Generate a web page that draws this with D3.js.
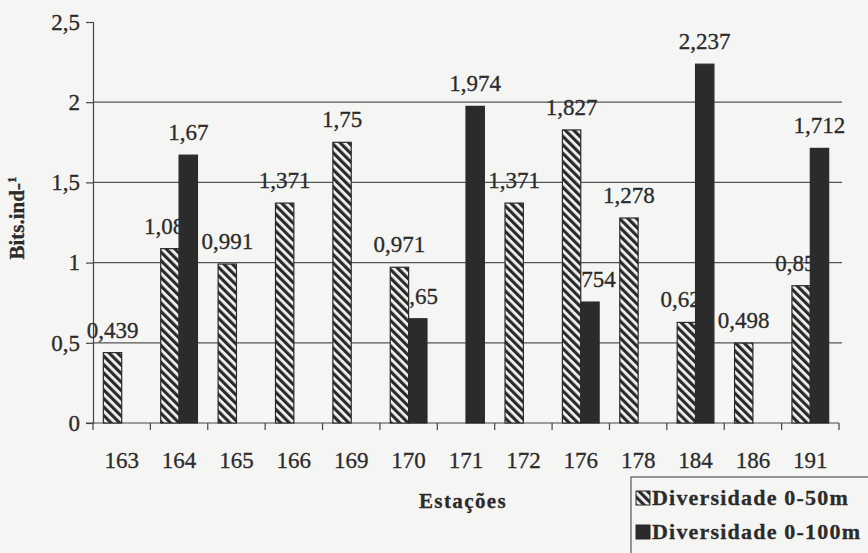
<!DOCTYPE html>
<html>
<head>
<meta charset="utf-8">
<script src="https://cdn.jsdelivr.net/npm/d3@7"></script>
<style>
  body { margin: 0; background: #f5f5f3; }
  svg { display: block; }
  svg text { font-family: "Times New Roman", Times, "Liberation Serif", serif; stroke: #2b2b2b; stroke-width: 0.3px; }
</style>
</head>
<body>
<svg id="chart" width="868" height="553"></svg>
<script>
// stations on the x axis
const stations = ['163', '164', '165', '166', '169', '170', '171', '172', '176', '178', '184', '186', '191'];
// diversity values (bits.ind-1), null where no bar
const div50 = [0.439, 1.087, 0.991, 1.371, 1.75, 0.971, null, 1.371, 1.827, 1.278, 0.627, 0.498, 0.856];
const div100 = [null, 1.67, null, null, null, 0.65, 1.974, null, 0.754, null, 2.237, null, 1.712];
const yTicks = [0, 0.5, 1, 1.5, 2, 2.5];
const seriesNames = ['Diversidade 0-50m', 'Diversidade 0-100m'];

const ink = '#2b2b2b';
const svg = d3.select('#chart');
const margin = {left: 93, right: 29, top: 22, bottom: 130};
const W = 868, H = 553;

// comma decimal like the original
const pt = d3.formatLocale({decimal: ',', thousands: '.', grouping: [3], currency: ['', '']});
const fmt = pt.format('~g');

const x = d3.scaleBand().domain(stations).range([margin.left, W - margin.right]);
const y = d3.scaleLinear().domain([0, 2.5]).range([H - margin.bottom, margin.top]);
const barW = x.bandwidth() * 0.32;
const xs = d3.scaleBand().domain([0, 1]).range([0, barW * 2]);
const offset = (x.bandwidth() - barW * 2) / 2;

// hatch pattern for the 0-50m series (stripes running top-left to bottom-right)
const defs = svg.append('defs');
const pat = defs.append('pattern')
  .attr('id', 'hatch')
  .attr('patternUnits', 'userSpaceOnUse')
  .attr('width', 6).attr('height', 6)
  .attr('patternTransform', 'rotate(45)');
pat.append('rect').attr('width', 6).attr('height', 6).attr('fill', ink);
pat.append('rect').attr('x', 0).attr('y', 0).attr('width', 6).attr('height', 2.8).attr('fill', '#f4f4f2');

// gridlines
svg.append('g')
  .selectAll('line')
  .data(yTicks.filter(d => d > 0 && d < 2.5))
  .enter()
  .append('line')
  .attr('x1', margin.left).attr('x2', W - margin.right + 3)
  .attr('y1', d => y(d)).attr('y2', d => y(d))
  .attr('stroke', '#555').attr('stroke-width', 1.2);

// y axis
const yAxis = svg.append('g')
  .attr('transform', `translate(${margin.left},0)`)
  .call(d3.axisLeft(y).tickValues(yTicks).tickFormat(fmt).tickSize(7).tickPadding(6));
yAxis.attr('font-family', null);
yAxis.select('.domain').attr('stroke', '#444').attr('stroke-width', 1.2);
yAxis.selectAll('.tick line').attr('stroke', '#444').attr('stroke-width', 1.2);
yAxis.selectAll('text').attr('font-size', 23).attr('fill', ink);

// x axis: ticks on category boundaries
const xAxisG = svg.append('g').attr('transform', `translate(0,${y(0)})`);
xAxisG.append('line')
  .attr('x1', margin.left - 7).attr('x2', W - margin.right)
  .attr('stroke', '#444').attr('stroke-width', 1.2);
xAxisG.selectAll('.bound')
  .data(stations.concat(['end']))
  .enter()
  .append('line')
  .attr('x1', (d, i) => margin.left + i * x.step())
  .attr('x2', (d, i) => margin.left + i * x.step())
  .attr('y1', 0).attr('y2', 7)
  .attr('stroke', '#444').attr('stroke-width', 1.2);
xAxisG.selectAll('.xlab')
  .data(stations)
  .enter()
  .append('text')
  .attr('x', d => x(d) + x.bandwidth() / 2)
  .attr('y', 45)
  .attr('text-anchor', 'middle')
  .attr('font-size', 23)
  .attr('fill', ink)
  .text(d => d);

// axis titles
svg.append('text')
  .attr('x', 463)
  .attr('y', 508)
  .attr('text-anchor', 'middle')
  .attr('font-size', 21)
  .attr('font-weight', 'bold')
  .attr('letter-spacing', 1.4)
  .attr('fill', ink)
  .text('Estações');

const yt = svg.append('text')
  .attr('transform', 'translate(24,218) rotate(-90)')
  .attr('text-anchor', 'middle')
  .attr('font-size', 21)
  .attr('font-weight', 'bold')
  .attr('fill', ink);
yt.append('tspan').text('Bits.ind-');
yt.append('tspan').attr('dy', -8).attr('font-size', 13).text('1');

// build the bar rows
const rows = [];
stations.forEach((s, i) => {
  [div50[i], div100[i]].forEach((v, k) => {
    if (v != null) rows.push({station: s, k, v});
  });
});

// value labels first; bars are drawn over them like in the original
svg.append('g')
  .selectAll('text')
  .data(rows)
  .enter()
  .append('text')
  .attr('x', d => x(d.station) + offset + xs(d.k) + barW / 2)
  .attr('y', d => y(d.v) - 15)
  .attr('text-anchor', 'middle')
  .attr('font-size', 23)
  .attr('fill', ink)
  .text(d => fmt(d.v));

svg.append('g')
  .selectAll('rect')
  .data(rows)
  .enter()
  .append('rect')
  .attr('x', d => x(d.station) + offset + xs(d.k))
  .attr('y', d => y(d.v))
  .attr('width', barW)
  .attr('height', d => y(0) - y(d.v))
  .attr('fill', d => d.k === 0 ? 'url(#hatch)' : ink)
  .attr('stroke', ink)
  .attr('stroke-width', 1.2);

// legend
const lg = svg.append('g').attr('transform', 'translate(631,477)');
lg.append('rect')
  .attr('x', 0).attr('y', 0)
  .attr('width', 250).attr('height', 90)
  .attr('fill', '#f5f5f3')
  .attr('stroke', '#555').attr('stroke-width', 1.2);
seriesNames.forEach((name, i) => {
  const cy = 21 + i * 34;
  lg.append('rect')
    .attr('x', 5).attr('y', cy - 7)
    .attr('width', 14).attr('height', 14)
    .attr('fill', i === 0 ? 'url(#hatch)' : ink)
    .attr('stroke', ink).attr('stroke-width', 1);
  lg.append('text')
    .attr('x', 21).attr('y', cy + 7)
    .attr('font-size', 22)
    .attr('font-weight', 'bold')
    .attr('letter-spacing', 1.2)
    .attr('fill', ink)
    .text(name);
});
</script>
</body>
</html>
